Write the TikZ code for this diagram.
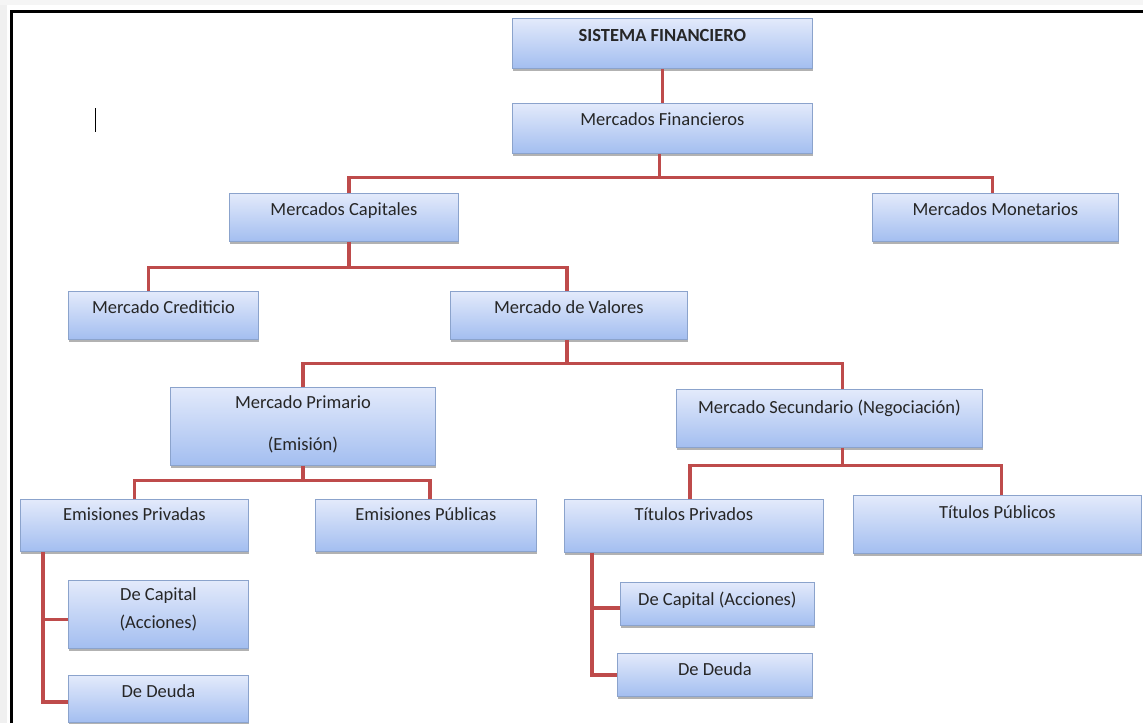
\documentclass[tikz,border=0pt]{standalone}
\usepackage{fontspec}
\setmainfont{Carlito}
\usetikzlibrary{shadows,calc}
\definecolor{conncol}{HTML}{BE4B4B}
\definecolor{boxtop}{HTML}{E3EAFB}
\definecolor{boxbot}{HTML}{A3BEF0}
\definecolor{boxline}{HTML}{8BA3CC}
\definecolor{txtcol}{HTML}{262626}
\tikzset{
  box/.style={draw=boxline, line width=0.8pt, top color=boxtop, bottom color=boxbot,
    inner sep=0pt, anchor=north west,
    drop shadow={shadow xshift=1pt, shadow yshift=-2.5pt, opacity=0.5, fill=black!60}},
  lbl/.style={anchor=base, text=txtcol, font=\fontsize{18.5}{18.5}\selectfont, inner sep=0pt},
  conn/.style={draw=conncol, line width=3.3pt},
}
\newcommand{\mybox}[5]{\node[box, minimum width=#4pt, minimum height=#5pt] (#1) at (#2,#3) {};}
\begin{document}
\begin{tikzpicture}[x=1pt,y=-1pt]
\useasboundingbox (0,0) rectangle (1143,723);
\fill[white] (0,0) rectangle (1143,723);
\fill[gray!12] (0,0) rectangle (7,723);
\fill[gray!8] (0,0) rectangle (1143,5);
\draw[line width=3pt] (11,723) -- (11,11) -- (1143,11);
\draw[line width=1pt] (95,108) -- (95,132);

% boxes
\mybox{SF}{512}{18}{300}{50}
\mybox{MF}{512}{103}{300}{50}
\mybox{MC}{229}{193}{229}{48}
\mybox{MM}{872}{193}{246}{48}
\mybox{MCr}{68}{291}{190}{48}
\mybox{MV}{450}{291}{237}{48}
\mybox{MP}{170}{387}{265}{78}
\mybox{MS}{676}{389}{306}{58}
\mybox{EPriv}{20}{499}{228}{52}
\mybox{EPub}{315}{499}{221}{52}
\mybox{TPriv}{564}{499}{259}{53}
\mybox{TPub}{853}{495}{288}{58}
\mybox{DCa}{68}{580}{180}{68}
\mybox{DDa}{68}{675}{180}{47}
\mybox{DCb}{620}{582}{194}{43}
\mybox{DDb}{617}{653}{195}{43}

% labels
\node[lbl] (tSF) at ($(SF.north)+(0,23)$) {\bfseries SISTEMA FINANCIERO};
\node[lbl] (tMF) at ($(MF.north)+(0,22)$) {Mercados Financieros};
\node[lbl] (tMC) at ($(MC.north)+(0,22)$) {Mercados Capitales};
\node[lbl] (tMM) at ($(MM.north)+(0,22)$) {Mercados Monetarios};
\node[lbl] (tMCr) at ($(MCr.north)+(0,22)$) {Mercado Crediticio};
\node[lbl] (tMV) at ($(MV.north)+(0,22)$) {Mercado de Valores};
\node[lbl] (tMP1) at ($(MP.north)+(0,21)$) {Mercado Primario};
\node[lbl] (tMP2) at ($(MP.north)+(0,63)$) {(Emisión)};
\node[lbl] (tMS) at ($(MS.north)+(0,24)$) {Mercado Secundario (Negociación)};
\node[lbl] (tEPriv) at ($(EPriv.north)+(0,21)$) {Emisiones Privadas};
\node[lbl] (tEPub) at ($(EPub.north)+(0,21)$) {Emisiones Públicas};
\node[lbl] (tTPriv) at ($(TPriv.north)+(0,21)$) {Títulos Privados};
\node[lbl] (tTPub) at ($(TPub.north)+(0,23)$) {Títulos Públicos};
\node[lbl] (tDCa1) at ($(DCa.north)+(0,20)$) {De Capital};
\node[lbl] (tDCa2) at ($(DCa.north)+(0,48)$) {(Acciones)};
\node[lbl] (tDDa) at ($(DDa.north)+(0,22)$) {De Deuda};
\node[lbl] (tDCb) at ($(DCb.north)+(0,23)$) {De Capital (Acciones)};
\node[lbl] (tDDb) at ($(DDb.north)+(0,22)$) {De Deuda};

% connectors
\draw[conn] (SF.south) -- (MF.north);

\coordinate (j1) at ($(MF.south)+(-3,24)$);
\draw[conn] ([xshift=-3pt]MF.south) -- (j1);
\draw[conn] ([xshift=5pt]MC.north) |- (j1);
\draw[conn] ([xshift=-3pt]MM.north) |- (j1);

\coordinate (j2) at ($(MC.south)+(5,26)$);
\draw[conn] ([xshift=5pt]MC.south) -- (j2);
\draw[conn] ([xshift=-15pt]MCr.north) |- (j2);
\draw[conn] ([xshift=-2pt]MV.north) |- (j2);

\coordinate (j3) at ($(MV.south)+(-2,24)$);
\draw[conn] ([xshift=-2pt]MV.south) -- (j3);
\draw[conn] (MP.north) |- (j3);
\draw[conn] ([xshift=13pt]MS.north) |- (j3);

\coordinate (j4) at ($(MP.south)+(0,15)$);
\draw[conn] (MP.south) -- (j4);
\draw[conn] (EPriv.north) |- (j4);
\draw[conn] ([xshift=4pt]EPub.north) |- (j4);

\coordinate (j5) at ($(MS.south)+(13,18)$);
\draw[conn] ([xshift=13pt]MS.south) -- (j5);
\draw[conn] ([xshift=-4pt]TPriv.north) |- (j5);
\draw[conn] ([xshift=4pt]TPub.north) |- (j5);

\coordinate (s1) at ($(EPriv.south west)+(23,0)$);
\draw[conn] (s1) |- ([yshift=-3pt]DDa.west);
\draw[conn] ([yshift=-5pt]DCa.west) -- ([yshift=-5pt]DCa.west -| s1);

\coordinate (s2) at ($(TPriv.south west)+(28,0)$);
\draw[conn] (s2) |- (DDb.west);
\draw[conn] ([yshift=-4pt]DCb.west) -- ([yshift=-4pt]DCb.west -| s2);
\end{tikzpicture}
\end{document}
